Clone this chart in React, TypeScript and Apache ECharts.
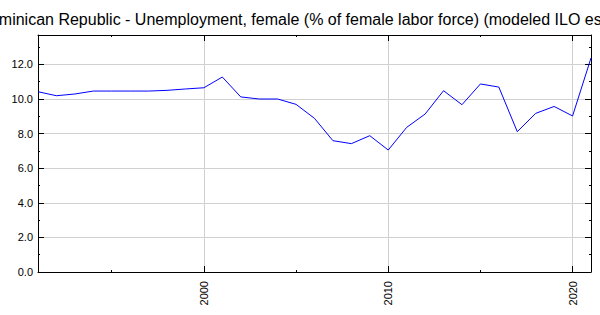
import React, { useEffect, useRef } from "react";
import * as echarts from "echarts";

const titleText =
  "Dominican Republic - Unemployment, female (% of female labor force) (modeled ILO estimate)";
const years = [
  1991, 1992, 1993, 1994, 1995, 1996, 1997, 1998, 1999, 2000, 2001, 2002, 2003,
  2004, 2005, 2006, 2007, 2008, 2009, 2010, 2011, 2012, 2013, 2014, 2015, 2016,
  2017, 2018, 2019, 2020, 2021,
];
const values = [
  10.42, 10.19, 10.29, 10.46, 10.46, 10.46, 10.46, 10.5, 10.58, 10.65, 11.27,
  10.12, 10.0, 10.0, 9.69, 8.88, 7.59, 7.42, 7.88, 7.05, 8.36, 9.13, 10.48,
  9.67, 10.87, 10.69, 8.11, 9.17, 9.57, 9.02, 12.37,
];
const xMajor = [2000, 2010, 2020];
const xMinor = [1995, 2005, 2015];
const yMajor = [0, 2, 4, 6, 8, 10, 12];
const yMinor = [1, 3, 5, 7, 9, 11, 13];
const xMin = 1991;
const xMax = 2021;
const yMin = 0;
const yMax = 13.7;

const FONT = "'Liberation Sans', Arial, sans-serif";

function xAx(position: string, ticks: number[], len: number, major: boolean, labels: boolean) {
  return {
    type: "value",
    min: xMin,
    max: xMax,
    position,
    axisLine: { show: major, onZero: false, lineStyle: { color: "#000", width: 1 } },
    axisTick: {
      show: true,
      inside: true,
      length: len,
      customValues: ticks,
      lineStyle: { color: "#000", width: 1 },
    },
    axisLabel: labels
      ? {
          show: true,
          customValues: ticks,
          rotate: 90,
          margin: 9,
          fontSize: 11,
          color: "#000",
          fontFamily: FONT,
          formatter: (v: number) => String(v),
        }
      : { show: false },
    splitLine: {
      show: major && labels,
      lineStyle: { color: "#d0d0d0", width: 1 },
    },
  };
}

function yAx(position: string, ticks: number[], len: number, major: boolean, labels: boolean) {
  return {
    type: "value",
    min: yMin,
    max: yMax,
    position,
    axisLine: { show: major, onZero: false, lineStyle: { color: "#000", width: 1 } },
    axisTick: {
      show: true,
      inside: true,
      length: len,
      customValues: ticks,
      lineStyle: { color: "#000", width: 1 },
    },
    axisLabel: labels
      ? {
          show: true,
          customValues: ticks,
          margin: 5,
          fontSize: 11,
          color: "#000",
          fontFamily: FONT,
          formatter: (v: number) => v.toFixed(1),
        }
      : { show: false },
    splitLine: {
      show: major && labels,
      lineStyle: { color: "#d0d0d0", width: 1 },
    },
  };
}

export default function App() {
  const ref = useRef<HTMLDivElement>(null);
  useEffect(() => {
    if (!ref.current) return;
    const chart = echarts.init(ref.current, null, { renderer: "svg" });
    chart.setOption({
      animation: false,
      backgroundColor: "#fff",
      grid: { left: 38, right: 9, top: 35, bottom: 43, containLabel: false },
      graphic: [
        {
          type: "text",
          x: 314.5,
          y: 19,
          style: {
            text: titleText,
            textAlign: "center",
            textVerticalAlign: "middle",
            fontSize: 16,
            fontFamily: FONT,
            fill: "#000",
          },
        },
      ],
      xAxis: [
        xAx("bottom", xMajor, 6, true, true),
        xAx("bottom", xMinor, 2, false, false),
        xAx("top", xMajor, 6, true, false),
        xAx("top", xMinor, 2, false, false),
      ],
      yAxis: [
        yAx("left", yMajor, 6, true, true),
        yAx("left", yMinor, 2, false, false),
        yAx("right", yMajor, 6, true, false),
        yAx("right", yMinor, 2, false, false),
      ],
      series: [
        {
          type: "line",
          xAxisIndex: 0,
          yAxisIndex: 0,
          data: years.map((y, i) => [y, values[i]]),
          showSymbol: false,
          symbol: "none",
          lineStyle: { color: "#0000ff", width: 1 },
        },
      ],
    });
    return () => chart.dispose();
  }, []);
  return (
    <div
      ref={ref}
      style={{ position: "fixed", left: 0, top: 0, width: 600, height: 315 }}
    />
  );
}
